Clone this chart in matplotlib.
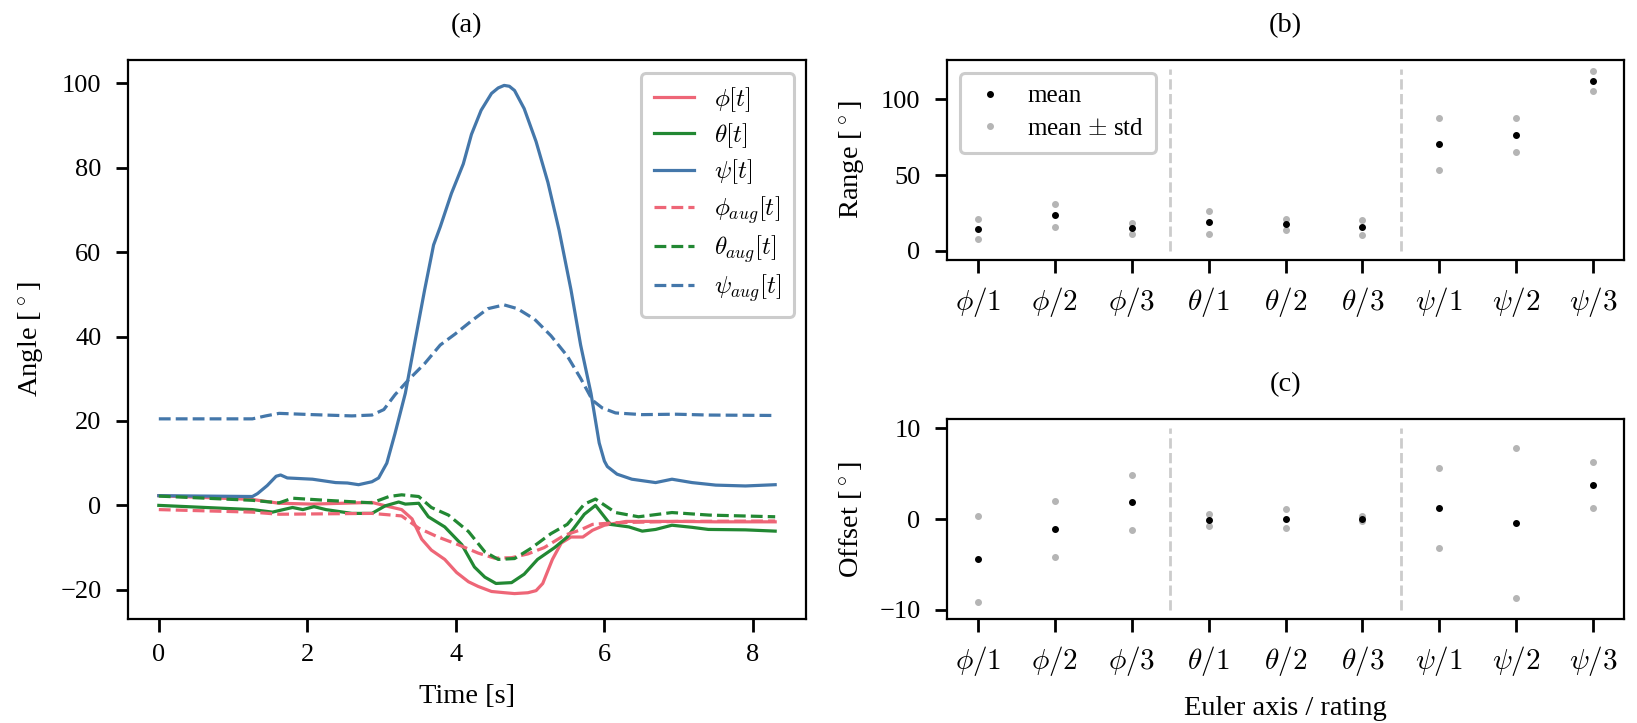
import matplotlib
matplotlib.use("Agg")
import matplotlib.pyplot as plt
import numpy as np

plt.rcParams.update({
    "font.family": ["Liberation Serif", "DejaVu Serif"],
    "mathtext.fontset": "cm",
    "font.size": 19,
    "axes.labelsize": 20.5,
    "axes.titlesize": 20.5,
    "xtick.labelsize": 19,
    "ytick.labelsize": 19,
    "legend.fontsize": 18,
    "axes.linewidth": 1.6,
    "xtick.major.width": 2.0,
    "ytick.major.width": 2.0,
    "xtick.major.size": 9,
    "ytick.major.size": 9,
    "xtick.major.pad": 9,
    "ytick.major.pad": 10,
    "legend.edgecolor": "0.8",
})

# ---------------- data: panel (a) ----------------
t_phi = [0, 1.26, 1.62, 2.07, 2.87, 3.05, 3.27, 3.41, 3.54, 3.67, 3.85, 4.01, 4.17, 4.30, 4.48,
         4.66, 4.79, 4.97, 5.08, 5.17, 5.30, 5.42, 5.55, 5.71, 5.84, 6.0, 6.29, 7.0, 7.5, 8.3]
phi = [2.3, 1.4, 0.5, 0.3, 0.7, -0.1, -1.0, -3.2, -8.0, -10.6, -12.8, -15.9, -18.1, -19.2, -20.4,
       -20.7, -20.9, -20.7, -20.2, -18.5, -12.8, -8.9, -7.5, -7.5, -5.9, -4.7, -3.8, -3.8, -3.9, -3.9]

t_theta = [0, 1.26, 1.53, 1.8, 1.94, 2.09, 2.25, 2.6, 2.87, 3.05, 3.23, 3.32, 3.5, 3.63, 3.85,
           4.08, 4.25, 4.39, 4.54, 4.75, 4.92, 5.10, 5.33, 5.5, 5.73, 5.88, 6.08, 6.33, 6.51,
           6.69, 6.91, 7.18, 7.4, 7.9, 8.3]
theta = [0.0, -1.0, -1.6, -0.5, -1.0, -0.3, -1.0, -1.9, -1.9, -0.1, 0.8, 0.3, 0.5, -2.7, -5.1,
         -9.3, -14.6, -17.0, -18.5, -18.3, -16.3, -12.8, -10.0, -7.5, -2.1, 0.0, -4.5, -5.1, -6.1,
         -5.7, -4.7, -5.2, -5.7, -5.8, -6.1]

t_psi = [0, 1.26, 1.33, 1.46, 1.58, 1.64, 1.73, 2.07, 2.38, 2.54, 2.69, 2.87, 2.96, 3.07, 3.18,
         3.32, 3.45, 3.58, 3.70, 3.79, 3.94, 4.10, 4.21, 4.34, 4.48, 4.57, 4.65, 4.72, 4.79, 4.92,
         5.08, 5.24, 5.39, 5.55, 5.68, 5.82, 5.93, 6.0, 6.04, 6.17, 6.37, 6.69, 6.91, 7.18, 7.5,
         7.9, 8.3]
psi = [2.3, 2.1, 2.8, 4.7, 6.9, 7.2, 6.5, 6.2, 5.4, 5.3, 4.9, 5.6, 6.5, 10.0, 17.0,
       26.6, 38.9, 51.1, 61.7, 66.0, 73.9, 80.9, 87.9, 93.6, 97.6, 98.9, 99.5, 99.3, 98.3, 94.0,
       86.2, 76.5, 65.2, 51.1, 38.0, 26.5, 14.8, 10.5, 9.2, 7.4, 6.2, 5.4, 6.2, 5.4, 4.8,
       4.6, 4.9]

t_phi_aug = [0, 1.26, 1.62, 2.87, 3.27, 3.5, 3.76, 4.03, 4.3, 4.52, 4.75, 4.97, 5.19, 5.46, 5.68,
             5.84, 6.15, 7.0, 8.3]
phi_aug = [-1.0, -1.6, -2.1, -1.9, -2.5, -5.4, -7.5, -9.3, -11.3, -12.5, -12.4, -11.5, -10.0, -7.1,
           -5.8, -4.5, -4.1, -3.8, -3.7]

t_theta_aug = [0, 1.26, 1.62, 1.8, 2.25, 2.87, 3.1, 3.27, 3.5, 3.67, 3.9, 4.17, 4.39, 4.57, 4.79,
               5.01, 5.28, 5.5, 5.73, 5.88, 6.15, 6.46, 6.91, 7.41, 8.3]
theta_aug = [2.2, 1.2, 0.6, 1.7, 1.2, 0.6, 2.1, 2.5, 2.1, -0.5, -2.3, -6.2, -11.0, -12.8, -12.6,
             -10.2, -6.7, -4.5, 0.3, 1.5, -1.7, -2.7, -1.7, -2.3, -2.7]

t_psi_aug = [0, 1.26, 1.44, 1.62, 2.07, 2.6, 2.87, 3.03, 3.18, 3.36, 3.58, 3.79, 3.99, 4.21, 4.43,
             4.65, 4.83, 5.06, 5.28, 5.5, 5.68, 5.84, 5.97, 6.15, 6.51, 6.96, 7.41, 8.3]
psi_aug = [20.5, 20.5, 21.2, 21.8, 21.5, 21.2, 21.4, 22.7, 26.2, 29.7, 33.6, 38.0, 40.6, 43.7, 46.6,
           47.5, 46.6, 44.1, 40.2, 35.4, 30.1, 24.9, 23.1, 21.9, 21.5, 21.6, 21.4, 21.3]

# ---------------- data: panels (b) and (c) ----------------
categories = [r"$\phi/1$", r"$\phi/2$", r"$\phi/3$", r"$\theta/1$", r"$\theta/2$", r"$\theta/3$",
              r"$\psi/1$", r"$\psi/2$", r"$\psi/3$"]
range_mean = [14.3, 23.5, 15.0, 19.0, 17.5, 15.6, 70.7, 76.2, 112.3]
range_std = [6.5, 7.5, 3.6, 7.6, 3.5, 5.1, 17.1, 11.2, 6.6]
offset_mean = [-4.42, -1.13, 1.83, -0.10, 0.05, 0.05, 1.19, -0.40, 3.72]
offset_std = [4.74, 3.09, 3.05, 0.64, 1.08, 0.30, 4.39, 8.25, 2.50]
separators = [2.5, 5.5]
range_sep_span = (0, 120)
offset_sep_span = (-10, 10)

RED, GREEN, BLUE = "#EE6677", "#228833", "#4477AA"
GRAY = "#b5b5b5"

fig = plt.figure(figsize=(16.37, 7.23), dpi=100)
W, H = 1637, 723
def rect(l, r, t, b):
    return [l / W, 1 - b / H, (r - l) / W, (b - t) / H]

ax_a = fig.add_axes(rect(128, 806, 60, 619))
ax_b = fig.add_axes(rect(947, 1624, 60, 260))
ax_c = fig.add_axes(rect(947, 1624, 419, 619))

lw = 2.3
ax_a.plot(t_phi, phi, color=RED, lw=lw, label=r"$\phi[t]$")
ax_a.plot(t_theta, theta, color=GREEN, lw=lw, label=r"$\theta[t]$")
ax_a.plot(t_psi, psi, color=BLUE, lw=lw, label=r"$\psi[t]$")
ax_a.plot(t_phi_aug, phi_aug, color=RED, lw=lw, ls="--", label=r"$\phi_{aug}[t]$")
ax_a.plot(t_theta_aug, theta_aug, color=GREEN, lw=lw, ls="--", label=r"$\theta_{aug}[t]$")
ax_a.plot(t_psi_aug, psi_aug, color=BLUE, lw=lw, ls="--", label=r"$\psi_{aug}[t]$")
ax_a.set_xlabel("Time [s]", labelpad=13)
ax_a.set_ylabel(r"Angle [$^\circ$]", labelpad=10)
ax_a.set_title("(a)", pad=20)
ax_a.set_xticks([0, 2, 4, 6, 8])
leg_a = ax_a.legend(loc="upper right", labelspacing=0.3, framealpha=1, fancybox=True,
                    borderpad=0.5, handlelength=1.6)
leg_a.get_frame().set_linewidth(2.2)

x = np.arange(len(categories))

def cat_panel(ax, mean, std, span, ylabel, title, legend):
    mean = np.asarray(mean)
    std = np.asarray(std)
    ax.vlines(separators, span[0], span[1], colors="#cccccc", linestyles="--", lw=2)
    ax.plot(x, mean, ".", color="black", ms=8, label="mean", zorder=3)
    ax.plot(x, mean + std, ".", color=GRAY, ms=8, label=r"mean $\pm$ std", zorder=2)
    ax.plot(x, mean - std, ".", color=GRAY, ms=8, zorder=2)
    ax.set_xticks(x)
    ax.set_xticklabels(categories, fontsize=21)
    ax.set_ylabel(ylabel, labelpad=10)
    ax.set_title(title, pad=20)
    if legend:
        leg = ax.legend(loc="upper left", framealpha=1, borderpad=0.5, handlelength=1.4,
                        labelspacing=0.4)
        leg.get_frame().set_linewidth(2.2)

cat_panel(ax_b, range_mean, range_std, range_sep_span, r"Range [$^\circ$]", "(b)", True)
cat_panel(ax_c, offset_mean, offset_std, offset_sep_span, r"Offset [$^\circ$]", "(c)", False)
ax_b.set_yticks([0, 50, 100])
ax_c.set_yticks([-10, 0, 10])
ax_c.set_xlabel("Euler axis / rating", labelpad=13)

fig.savefig("out.png", dpi=100)
